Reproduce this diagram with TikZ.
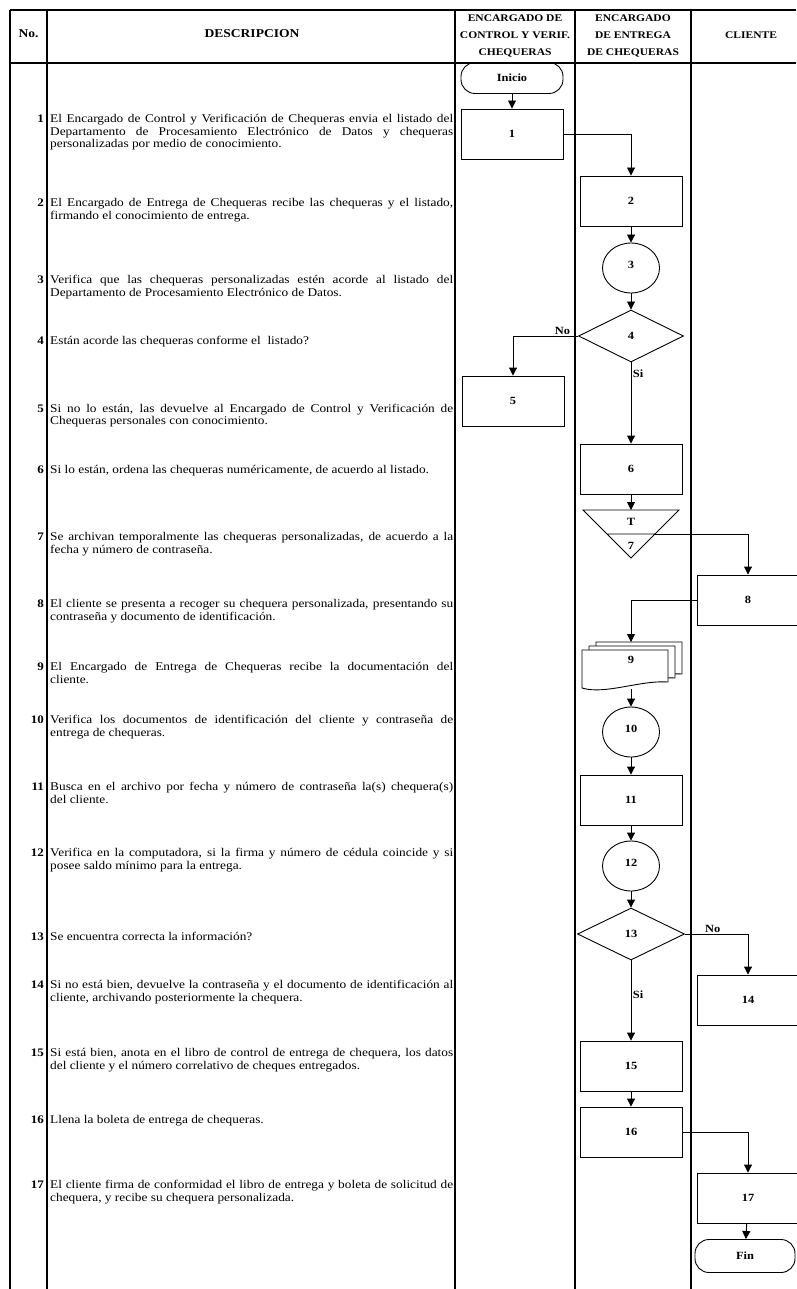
\documentclass[tikz,border=0pt]{standalone}
\usepackage{fontspec}
\setmainfont{Liberation Serif}[FakeStretch=1.13]
\usetikzlibrary{arrows.meta,positioning,calc,shapes.geometric}

\begin{document}
\begin{tikzpicture}[x=1pt,y=-1pt,>={Triangle[width=8pt,length=8pt]},
 rule/.style={line width=1.1pt},
 head/.style={align=center,inner sep=0pt,font=\bfseries\fontsize{10.2}{16.8}\selectfont},
 num/.style={anchor=base east,inner sep=0pt,font=\bfseries\fontsize{11.5}{12.6}\selectfont},
 desc/.style={anchor=base west,inner sep=0pt,text width=403pt,align=justify,font=\fontsize{11.8}{12.6}\selectfont},
 procbox/.style={draw,line width=0.9pt,minimum width=102pt,minimum height=50pt,inner sep=0pt,font=\bfseries\fontsize{11}{13}\selectfont},
 term/.style={procbox,rounded corners=14pt,minimum height=31pt},
 conn/.style={procbox,ellipse,minimum width=57pt,minimum height=50pt},
 dec/.style={procbox,diamond,minimum width=105pt,minimum height=52pt},
 flow/.style={->,line width=0.9pt},
 tag/.style={inner sep=1.5pt,font=\bfseries\fontsize{11}{13}\selectfont}]
 \path[use as bounding box,fill=white] (0,0) rectangle (796,1289);
 % table
 \draw[rule] (10,10) -- (796,10);
 \draw[rule] (10,63) -- (796,63);
 \foreach \x in {10,47,455,575,691}
  \draw[rule] (\x,10) -- (\x,1289);
 \node[head,font=\bfseries\fontsize{12}{14}\selectfont] (hno) at (28.5,34) {No.};
 \node[head,font=\bfseries\fontsize{12}{14}\selectfont] (hdesc) at (252,34) {DESCRIPCION};
 \node[head] (hctl) at (515,36) {ENCARGADO DE\\CONTROL Y VERIF.\\CHEQUERAS};
 \node[head] (hent) at (633,36) {ENCARGADO\\DE ENTREGA\\DE CHEQUERAS};
 \node[head] (hcli) at (751,35) {CLIENTE};
 % description rows
 \foreach \n/\y/\txt in {
  1/122.5/{El Encargado de Control y Verificación de Chequeras envia el listado del\linebreak Departamento de Procesamiento Electrónico de Datos y chequeras\linebreak personalizadas por medio de conocimiento.},
  2/206.5/{El Encargado de Entrega de Chequeras recibe las chequeras y el listado,\linebreak firmando el conocimiento de entrega.},
  3/283.5/{Verifica que las chequeras personalizadas estén acorde al listado del\linebreak Departamento de Procesamiento Electrónico de Datos.},
  4/344.5/{Están acorde las chequeras conforme el\ \ listado?},
  5/412/{Si no lo están, las devuelve al Encargado de Control y Verificación de\linebreak Chequeras personales con conocimiento.},
  6/473.5/{Si lo están, ordena las chequeras numéricamente, de acuerdo al listado.},
  7/540.5/{Se archivan temporalmente las chequeras personalizadas, de acuerdo a la\linebreak fecha y número de contraseña.},
  8/607.5/{El cliente se presenta a recoger su chequera personalizada, presentando su\linebreak contraseña y documento de identificación.},
  9/670.5/{El Encargado de Entrega de Chequeras recibe la documentación del\linebreak cliente.},
  10/723.5/{Verifica los documentos de identificación del cliente y contraseña de\linebreak entrega de chequeras.},
  11/790.5/{Busca en el archivo por fecha y número de contraseña la(s) chequera(s)\linebreak del cliente.},
  12/856.5/{Verifica en la computadora, si la firma y número de cédula coincide y si\linebreak posee saldo mínimo para la entrega.},
  13/940.5/{Se encuentra correcta la información?},
  14/988.5/{Si no está bien, devuelve la contraseña y el documento de identificación al\linebreak cliente, archivando posteriormente la chequera.},
  15/1056.5/{Si está bien, anota en el libro de control de entrega de chequera, los datos\linebreak del cliente y el número correlativo de cheques entregados.},
  16/1123.5/{Llena la boleta de entrega de chequeras.},
  17/1188.5/{El cliente firma de conformidad el libro de entrega y boleta de solicitud de\linebreak chequera, y recibe su chequera personalizada.}} {
  \node[num] (no\n) at (44,\y) {\n};
  \node[desc] (d\n) at (50,\y) {\txt};
 }
 % flow
 \node[term] (ini) at (512,78) {Inicio};
 \node[procbox] (n1) at (512,134) {1};
 \node[procbox] (n2) at (631,201) {2};
 \node[conn] (n3) at (631,268) {\raisebox{7pt}{3}};
 \node[dec] (n4) at (631,336) {4};
 \node[procbox] (n5) at (513,401) {5};
 \node[procbox] (n6) at (631,469) {6};
 \draw[line width=0.9pt] (583,510) -- (679,510) -- (631,558) -- cycle (607,534) -- (655,534);
 \coordinate (a7in) at (631,510);
 \coordinate (a7out) at (655,534);
 \node[tag] (t7) at (631,522) {T};
 \node[tag] (n7) at (631,546) {7};
 \node[procbox] (n8) at (748,600) {8};
 \foreach \dx/\dy in {14/-8,7/-4,0/0}
  \filldraw[line width=0.9pt,fill=white,shift={(\dx,\dy)}] (582,650) -- (668,650) -- (668,682) .. controls (640,680) and (605,695) .. (582,688) -- cycle;
 \node[tag] (n9) at (631,660) {9};
 \coordinate (d9in) at (631,642);
 \coordinate (d9out) at (631,689);
 \node[conn] (n10) at (631,732) {\raisebox{7pt}{10}};
 \node[procbox] (n11) at (631,800) {11};
 \node[conn] (n12) at (631,866) {\raisebox{7pt}{12}};
 \node[dec,minimum width=107pt] (n13) at (631,934) {13};
 \node[procbox] (n14) at (748,1000) {14};
 \node[procbox] (n15) at (631,1066) {15};
 \node[procbox] (n16) at (631,1132) {16};
 \node[procbox] (n17) at (748,1198) {17};
 \node[term,minimum height=33pt,minimum width=100pt] (fin) at (745,1256) {Fin};
 \draw[flow] (ini) -- (n1);
 \draw[flow] (n1.east) -| (n2.north);
 \draw[flow] (n2) -- (n3);
 \draw[flow] (n3) -- (n4);
 \draw[flow] (n4.west) -| node[tag,pos=0.12,above,inner sep=0.5pt] {No} (n5.north);
 \draw[flow] (n4.south) -- node[tag,pos=0.14,right] {Si} (n6.north);
 \draw[flow] (n6) -- (a7in);
 \draw[flow] (a7out) -| (n8.north);
 \draw[flow] (n8.west) -| (d9in);
 \draw[flow] (d9out) -- (n10);
 \draw[flow] (n10) -- (n11);
 \draw[flow] (n11) -- (n12);
 \draw[flow] (n12) -- (n13);
 \draw[flow] (n13.east) -| node[tag,pos=0.22,above,inner sep=0.5pt] {No} (n14.north);
 \draw[flow] (n13.south) -- node[tag,pos=0.43,right] {Si} (n15.north);
 \draw[flow] (n15) -- (n16);
 \draw[flow] (n16.east) -| (n17.north);
 \draw[flow] (n17) -- (fin);
\end{tikzpicture}
\end{document}
